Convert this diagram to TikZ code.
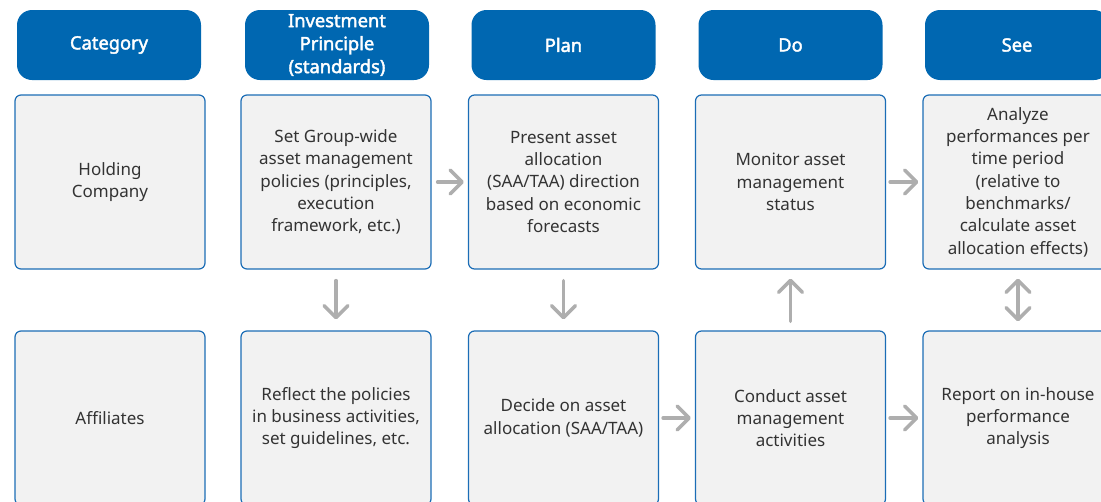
\documentclass[tikz,border=0pt]{standalone}
\usepackage{fontspec}
\setmainfont{Noto Sans}
\newfontfamily\hdrfont{Noto Sans}[FakeBold=2.2]
\usetikzlibrary{arrows.meta}
\definecolor{hdrblue}{HTML}{0067B1}
\definecolor{boxblue}{HTML}{1B6DB6}
\definecolor{boxfill}{HTML}{F2F2F2}
\definecolor{txt}{HTML}{333333}
\definecolor{arrgray}{HTML}{AEAEAE}
\begin{document}
\begin{tikzpicture}[x=1pt,y=-1pt,
  hdr/.style={rounded corners=15pt, fill=hdrblue, text=white,
    font=\hdrfont\fontsize{18.3}{23}\selectfont, minimum width=184pt,
    minimum height=70pt, align=center, inner sep=0pt},
  box/.style={draw=boxblue, line width=1.2pt, fill=boxfill, rounded corners=6pt,
    minimum width=190pt, minimum height=174pt, align=center, text=txt,
    font=\fontsize{17}{22.3}\selectfont, inner sep=0pt},
  arr/.style={line width=3.5pt, draw=arrgray, line cap=round,
    -{Straight Barb[length=12pt,width=24pt,round]}},
  darr/.style={line width=3.5pt, draw=arrgray, line cap=round,
    {Straight Barb[length=12pt,width=24pt,round]}-{Straight Barb[length=12pt,width=24pt,round]}}
]
\useasboundingbox (0,0) rectangle (1101,501);
\clip (0,0) rectangle (1101,501);
% headers
\node[hdr] (c1) at (109,45) {Category};
\node[hdr] (c2) at (337,45) {Investment\\Principle\\(standards)};
\node[hdr] (c3) at (563.5,45) {Plan};
\node[hdr] (c4) at (790.5,45) {Do};
\node[hdr] (c5) at (1017,45) {See};
% row 1
\node[box] (h0) at (110,182) {Holding\\Company};
\node[box] (h1) at (336,182) {Set Group-wide\\asset management\\policies (principles,\\execution\\framework, etc.)};
\node[box] (h2) at (563.5,182) {Present asset\\allocation\\(SAA/TAA) direction\\based on economic\\forecasts};
\node[box] (h3) at (790.5,182) {Monitor asset\\management\\status};
\node[box] (h4) at (1018,182) {Analyze\\performances per\\time period\\(relative to\\benchmarks/\\calculate asset\\allocation effects)};
% row 2
\node[box] (a0) at (110,418) {Affiliates};
\node[box] (a1) at (336,418) {Reflect the policies\\in business activities,\\set guidelines, etc.};
\node[box] (a2) at (563.5,418) {Decide on asset\\allocation (SAA/TAA)};
\node[box] (a3) at (790.5,418) {Conduct asset\\management\\activities};
\node[box] (a4) at (1018,418) {Report on in-house\\performance\\analysis};
% arrows
\draw[arr, shorten <=6pt, shorten >=4pt] (h1.east) -- (h2.west);
\draw[arr, shorten <=4pt, shorten >=4pt] (h3.east) -- (h4.west);
\draw[arr, shorten <=4pt, shorten >=4pt] (a2.east) -- (a3.west);
\draw[arr, shorten <=4pt, shorten >=4pt] (a3.east) -- (a4.west);
\draw[arr, shorten <=11pt, shorten >=11pt] (h1.south) -- (a1.north);
\draw[arr, shorten <=11pt, shorten >=11pt] (h2.south) -- (a2.north);
\draw[arr, shorten <=9pt, shorten >=9pt] (a3.north) -- (h3.south);
\draw[darr, shorten <=9pt, shorten >=9pt] (h4.south) -- (a4.north);
\end{tikzpicture}
\end{document}
